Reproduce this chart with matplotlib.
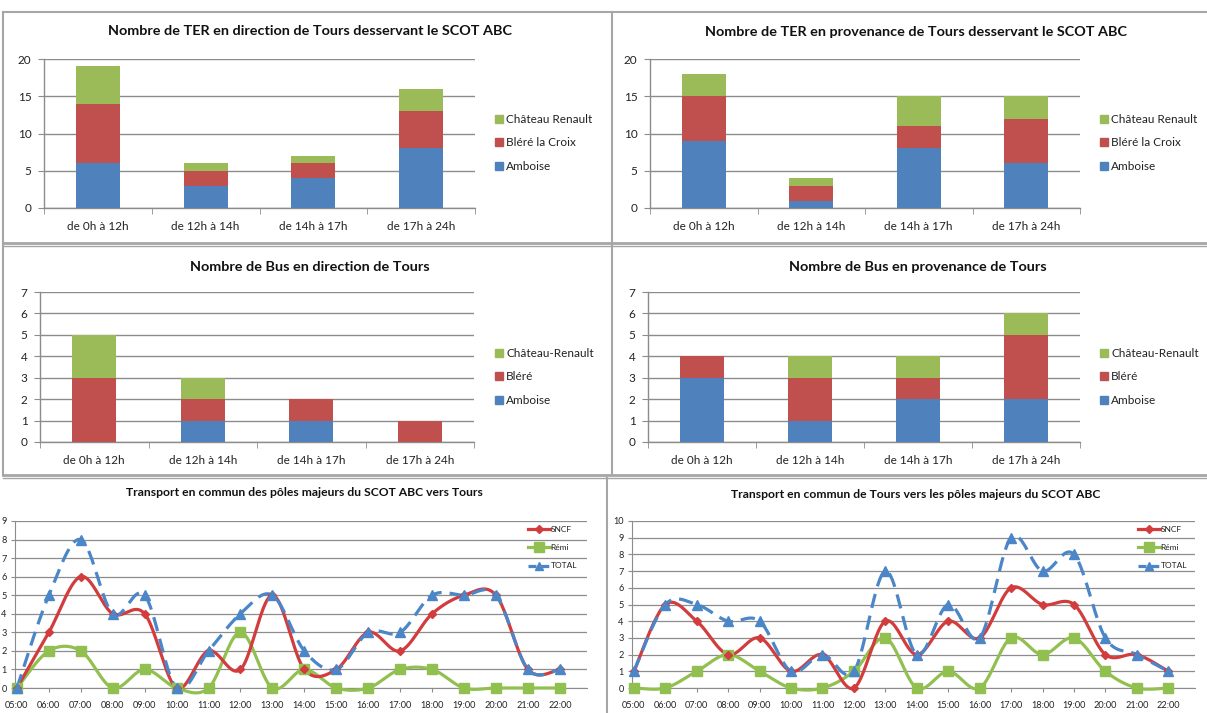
import numpy as np
import matplotlib
matplotlib.use("Agg")
import matplotlib.pyplot as plt
from matplotlib.lines import Line2D
from matplotlib.patches import Patch

plt.rcParams['font.family'] = ['Lato', 'DejaVu Sans']

# ---------------- data ----------------
periods = ["de 0h à 12h", "de 12h à 14h", "de 14h à 17h", "de 17h à 24h"]

ter_to_amboise = [6, 3, 4, 8]
ter_to_blere = [8, 2, 2, 5]
ter_to_chateau = [5, 1, 1, 3]

ter_from_amboise = [9, 1, 8, 6]
ter_from_blere = [6, 2, 3, 6]
ter_from_chateau = [3, 1, 4, 3]

bus_to_amboise = [0, 1, 1, 0]
bus_to_blere = [3, 1, 1, 1]
bus_to_chateau = [2, 1, 0, 0]

bus_from_amboise = [3, 1, 2, 2]
bus_from_blere = [1, 2, 1, 3]
bus_from_chateau = [0, 1, 1, 1]

ter_labels = ["Amboise", "Bléré la Croix", "Château Renault"]
bus_labels = ["Amboise", "Bléré", "Château-Renault"]

hours = ["05:00", "06:00", "07:00", "08:00", "09:00", "10:00", "11:00", "12:00", "13:00",
         "14:00", "15:00", "16:00", "17:00", "18:00", "19:00", "20:00", "21:00", "22:00"]

to_sncf = [0, 3, 6, 4, 4, 0, 2, 1, 5, 1, 1, 3, 2, 4, 5, 5, 1, 1]
to_remi = [0, 2, 2, 0, 1, 0, 0, 3, 0, 1, 0, 0, 1, 1, 0, 0, 0, 0]
to_total = [0, 5, 8, 4, 5, 0, 2, 4, 5, 2, 1, 3, 3, 5, 5, 5, 1, 1]

from_sncf = [1, 5, 4, 2, 3, 1, 2, 0, 4, 2, 4, 3, 6, 5, 5, 2, 2, 1]
from_remi = [0, 0, 1, 2, 1, 0, 0, 1, 3, 0, 1, 0, 3, 2, 3, 1, 0, 0]
from_total = [1, 5, 5, 4, 4, 1, 2, 1, 7, 2, 5, 3, 9, 7, 8, 3, 2, 1]

line_labels = ["SNCF", "Rémi", "TOTAL"]

# ---------------- style ----------------
BLUE = "#4F81BD"
RED = "#C0504D"
GREEN = "#9BBB59"
LRED = "#D23C3C"
LGREEN = "#92C050"
LBLUE = "#4A86C8"
GRID = "#8C8C8C"
AXC = "#8C8C8C"

W, H = 1207, 713
fig = plt.figure(figsize=(W / 100, H / 100), dpi=100)
fig.patch.set_facecolor("white")


def add_ax(l, t, r, b):
    return fig.add_axes([l / W, 1 - b / H, (r - l) / W, (b - t) / H])


def fx(px):
    return px / W


def fy(py):
    return 1 - py / H


def bar_chart(box, title, title_xy, a, b, c, labels, ymax, legend_xy):
    ax = add_ax(*box)
    x = np.arange(len(periods))
    a = np.array(a)
    b = np.array(b)
    c = np.array(c)
    w = 0.41
    ax.bar(x, a, w, color=BLUE, zorder=3)
    ax.bar(x, b, w, bottom=a, color=RED, zorder=3)
    ax.bar(x, c, w, bottom=a + b, color=GREEN, zorder=3)
    ax.set_xlim(-0.5, len(periods) - 0.5)
    ax.set_ylim(0, ymax)
    step = 5 if ymax > 10 else 1
    ax.set_yticks(np.arange(0, ymax + 1, step))
    ax.yaxis.grid(True, color=GRID, lw=1.0)
    ax.set_axisbelow(True)
    for s in ["top", "right"]:
        ax.spines[s].set_visible(False)
    for s in ["left", "bottom"]:
        ax.spines[s].set_color(AXC)
        ax.spines[s].set_linewidth(1.0)
    ax.set_xticks(x)
    ax.set_xticklabels(periods, fontsize=8.5, color="#222222")
    ax.tick_params(axis="x", which="major", length=0, pad=9)
    ax.set_xticks(np.arange(-0.5, len(periods)), minor=True)
    ax.tick_params(axis="x", which="minor", length=4, color=AXC, direction="out")
    ax.tick_params(axis="y", length=4, color=AXC, labelsize=8.5, labelcolor="#222222", pad=5)
    fig.text(fx(title_xy[0]), fy(title_xy[1]), title, ha="center", va="center",
             fontsize=10.4, fontweight="bold", color="#111111")
    handles = [Patch(color=GREEN), Patch(color=RED), Patch(color=BLUE)]
    fig.legend(handles, labels[::-1], loc="upper left",
               bbox_to_anchor=(fx(legend_xy[0]), fy(legend_xy[1])),
               frameon=False, fontsize=8.5, handlelength=0.65, handleheight=0.65,
               handletextpad=0.3, labelspacing=1.05, borderpad=0, borderaxespad=0,
               labelcolor="#222222")
    return ax


def smooth(y, n=24):
    pts = np.column_stack([np.arange(len(y)), y]).astype(float)
    P = np.vstack([pts[0], pts, pts[-1]])
    out = []
    t = np.linspace(0, 1, n)[:, None]
    for i in range(1, len(P) - 2):
        p0, p1, p2, p3 = P[i - 1], P[i], P[i + 1], P[i + 2]
        c1 = p1 + (p2 - p0) / 6
        c2 = p2 - (p3 - p1) / 6
        seg = (1 - t) ** 3 * p1 + 3 * (1 - t) ** 2 * t * c1 + 3 * (1 - t) * t ** 2 * c2 + t ** 3 * p2
        out.append(seg if i == 1 else seg[1:])
    return np.vstack(out)


def line_chart(box, title, title_xy, sncf, remi, total, ymax, legend_xy):
    ax = add_ax(*box)
    x = np.arange(len(hours))
    specs = [
        (remi, LGREEN, "-", "s", 7.5),
        (sncf, LRED, "-", "D", 4.5),
        (total, LBLUE, (0, (4.5, 2.5)), "^", 6.5),
    ]
    for ys, col, ls, mk, ms in specs:
        cv = smooth(ys)
        ax.plot(cv[:, 0], cv[:, 1], color=col, lw=2.3, ls=ls, zorder=3, clip_on=False)
        ax.plot(x, ys, ls="none", marker=mk, ms=ms, color=col, zorder=4, clip_on=False)
    ax.set_xlim(-0.06, len(hours) - 1 + 0.85)
    ax.set_ylim(0, ymax)
    ax.set_yticks(np.arange(0, ymax + 1, 1))
    ax.yaxis.grid(True, color=GRID, lw=0.9)
    ax.set_axisbelow(True)
    for s in ["top", "right"]:
        ax.spines[s].set_visible(False)
    for s in ["left", "bottom"]:
        ax.spines[s].set_color(AXC)
    ax.set_xticks(x)
    ax.set_xticklabels(hours, fontsize=6.6, color="#222222")
    ax.tick_params(axis="x", length=3, color=AXC, pad=6)
    ax.tick_params(axis="y", length=3, color=AXC, labelsize=6.6, labelcolor="#222222", pad=3)
    fig.text(fx(title_xy[0]), fy(title_xy[1]), title, ha="center", va="center",
             fontsize=8.7, fontweight="bold", color="#111111")
    handles = [
        Line2D([], [], color=LRED, lw=2.3, marker="D", ms=4.5),
        Line2D([], [], color=LGREEN, lw=2.3, marker="s", ms=7),
        Line2D([], [], color=LBLUE, lw=2.3, ls=(0, (2.5, 1.5)), marker="^", ms=6),
    ]
    fig.legend(handles, line_labels, loc="upper left",
               bbox_to_anchor=(fx(legend_xy[0]), fy(legend_xy[1])),
               frameon=False, fontsize=6, handlelength=2.6, handletextpad=0.1,
               labelspacing=1.35, borderpad=0, borderaxespad=0, labelcolor="#222222")
    return ax


bar_chart((44, 59, 475, 208), "Nombre de TER en direction de Tours desservant le SCOT ABC",
          (310, 31), ter_to_amboise, ter_to_blere, ter_to_chateau, ter_labels, 20, (495, 114))
bar_chart((650, 59, 1080, 208), "Nombre de TER en provenance de Tours desservant le SCOT ABC",
          (916, 32), ter_from_amboise, ter_from_blere, ter_from_chateau, ter_labels, 20, (1100, 114))
bar_chart((40, 292, 474, 442), "Nombre de Bus en direction de Tours",
          (310, 267), bus_to_amboise, bus_to_blere, bus_to_chateau, bus_labels, 7, (495, 348))
bar_chart((648, 292, 1080, 442), "Nombre de Bus en provenance de Tours",
          (918, 267), bus_from_amboise, bus_from_blere, bus_from_chateau, bus_labels, 7, (1100, 348))

line_chart((15, 521, 587, 688), "Transport en commun des pôles majeurs du SCOT ABC vers Tours",
           (304, 493), to_sncf, to_remi, to_total, 9, (528, 526))
line_chart((632, 521, 1195, 688), "Transport en commun de Tours vers les pôles majeurs du SCOT ABC",
           (916, 494), from_sncf, from_remi, from_total, 10, (1138, 526))

# panel borders
BC = "#A6A6A6"
def fline(xs, ys, lw=1.5):
    fig.add_artist(Line2D([fx(v) for v in xs], [fy(v) for v in ys], color=BC, lw=lw))

fline([3, 1207], [12, 12])
fline([3, 1207], [243, 243], 2)
fline([3, 1207], [246, 246], 1)
fline([3, 1207], [475, 475], 2)
fline([3, 1207], [478, 478], 1)
fline([3, 3], [12, 475])
fline([612, 612], [12, 475], 1.5)
fline([607, 607], [478, 713], 1.5)

fig.savefig("out.png", dpi=100, facecolor="white")
